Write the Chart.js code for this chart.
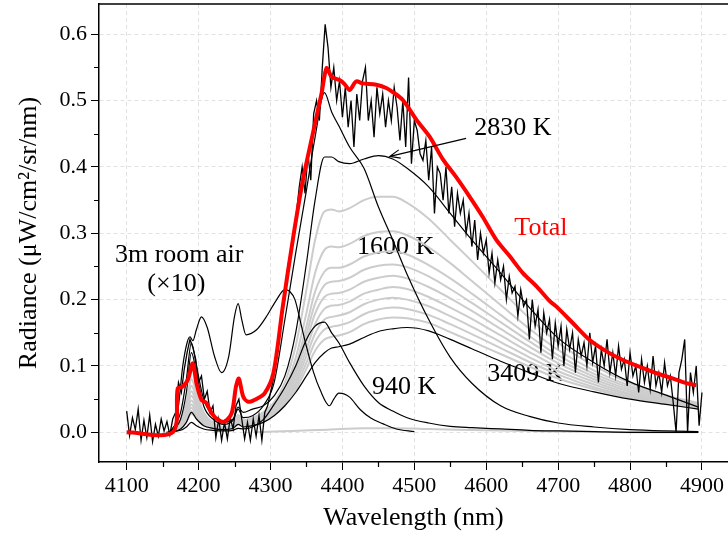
<!DOCTYPE html>
<html>
<head>
<meta charset="utf-8">
<script src="https://cdn.jsdelivr.net/npm/chart.js@4.4.1/dist/chart.umd.min.js"></script>
<style>
  html, body { margin: 0; padding: 0; background: #fff; }
</style>
</head>
<body>
<canvas id="spectrum" width="728" height="536"></canvas>
<script>
// wavelength grid of the model curves (nm)
const wlFit = [4160, 4175, 4183, 4190, 4197, 4207, 4220, 4235, 4248, 4255, 4262, 4275,
               4290, 4305, 4320, 4335, 4350, 4362, 4375, 4385, 4395, 4410, 4430, 4450,
               4470, 4490, 4520, 4550, 4580, 4620, 4660, 4700, 4750, 4800, 4850, 4895];

// black model curves
const k1600 = [0, 0.02, 0.06, 0.12, 0.09, 0.04, 0.02, 0.012, 0.018, 0.035, 0.022, 0.025,
               0.04, 0.075, 0.17, 0.27, 0.365, 0.445, 0.512, 0.483, 0.462, 0.43, 0.398, 0.34,
               0.29, 0.238, 0.17, 0.113, 0.074, 0.04, 0.024, 0.014, 0.008, 0.004, 0.002, 0.001];
const k2830 = [0, 0.03, 0.08, 0.135, 0.1, 0.05, 0.025, 0.015, 0.02, 0.038, 0.03, 0.035,
               0.04, 0.055, 0.085, 0.15, 0.255, 0.35, 0.415, 0.415, 0.408, 0.405, 0.412, 0.417,
               0.412, 0.398, 0.37, 0.33, 0.29, 0.24, 0.188, 0.142, 0.105, 0.076, 0.056, 0.038];
const k3409 = [0, 0.005, 0.015, 0.03, 0.02, 0.01, 0.006, 0.004, 0.006, 0.012, 0.008, 0.01,
               0.015, 0.025, 0.04, 0.06, 0.085, 0.105, 0.12, 0.127, 0.129, 0.133, 0.143, 0.152,
               0.156, 0.158, 0.153, 0.14, 0.126, 0.107, 0.09, 0.074, 0.061, 0.05, 0.042, 0.035];
const k940 = [0, 0.003, 0.008, 0.015, 0.01, 0.005, 0.003, 0.002, 0.003, 0.006, 0.005, 0.008,
              0.019, 0.042, 0.068, 0.1, 0.14, 0.16, 0.166, 0.15, 0.135, 0.105, 0.07, 0.045,
              0.032, 0.022, 0.014, 0.009, 0.007, 0.005, 0.003, 0.002, 0.001, 0, 0, 0];

// light grey intermediate curves
const g1 = [0, 0.018, 0.045, 0.08, 0.06, 0.03, 0.015, 0.008, 0.012, 0.026, 0.018, 0.022,
            0.03, 0.045, 0.075, 0.13, 0.215, 0.29, 0.333, 0.336, 0.333, 0.338, 0.35, 0.355,
            0.355, 0.346, 0.322, 0.29, 0.258, 0.215, 0.172, 0.135, 0.1, 0.074, 0.056, 0.044];
const g2 = [0, 0.015, 0.04, 0.07, 0.052, 0.026, 0.013, 0.007, 0.011, 0.023, 0.016, 0.02,
            0.027, 0.04, 0.066, 0.112, 0.18, 0.24, 0.275, 0.28, 0.279, 0.284, 0.296, 0.302,
            0.303, 0.297, 0.279, 0.255, 0.228, 0.192, 0.156, 0.124, 0.093, 0.07, 0.054, 0.043];
const g3 = [0, 0.013, 0.035, 0.062, 0.046, 0.023, 0.012, 0.006, 0.01, 0.021, 0.014, 0.018,
            0.025, 0.037, 0.06, 0.1, 0.16, 0.212, 0.242, 0.248, 0.248, 0.253, 0.265, 0.271,
            0.273, 0.268, 0.252, 0.232, 0.209, 0.177, 0.145, 0.116, 0.088, 0.067, 0.052, 0.042];
const g4 = [0, 0.012, 0.031, 0.055, 0.041, 0.02, 0.01, 0.006, 0.009, 0.019, 0.013, 0.016,
            0.023, 0.035, 0.056, 0.093, 0.148, 0.194, 0.222, 0.227, 0.228, 0.233, 0.245, 0.251,
            0.253, 0.249, 0.235, 0.216, 0.195, 0.166, 0.137, 0.11, 0.084, 0.064, 0.05, 0.041];
const g5 = [0, 0.01, 0.027, 0.048, 0.036, 0.018, 0.009, 0.005, 0.008, 0.017, 0.012, 0.015,
            0.021, 0.033, 0.052, 0.087, 0.137, 0.179, 0.204, 0.209, 0.21, 0.215, 0.227, 0.233,
            0.236, 0.232, 0.219, 0.202, 0.183, 0.156, 0.129, 0.104, 0.08, 0.061, 0.048, 0.04];
const g6 = [0, 0.009, 0.024, 0.042, 0.031, 0.016, 0.008, 0.005, 0.007, 0.015, 0.011, 0.014,
            0.02, 0.031, 0.049, 0.08, 0.125, 0.163, 0.186, 0.191, 0.192, 0.197, 0.209, 0.215,
            0.219, 0.216, 0.204, 0.188, 0.171, 0.146, 0.121, 0.098, 0.076, 0.058, 0.047, 0.039];
const g7 = [0, 0.008, 0.021, 0.037, 0.027, 0.014, 0.007, 0.004, 0.007, 0.014, 0.01, 0.013,
            0.018, 0.029, 0.046, 0.074, 0.115, 0.149, 0.17, 0.174, 0.176, 0.181, 0.193, 0.2,
            0.203, 0.2, 0.19, 0.175, 0.159, 0.136, 0.113, 0.092, 0.072, 0.056, 0.045, 0.038];
const g8 = [0, 0.007, 0.018, 0.032, 0.024, 0.012, 0.006, 0.004, 0.006, 0.013, 0.009, 0.012,
            0.017, 0.027, 0.043, 0.069, 0.105, 0.136, 0.155, 0.159, 0.161, 0.166, 0.178, 0.185,
            0.188, 0.186, 0.177, 0.163, 0.148, 0.127, 0.106, 0.087, 0.068, 0.054, 0.044, 0.037];
const g9 = [0, 0.006, 0.016, 0.028, 0.021, 0.011, 0.006, 0.004, 0.006, 0.012, 0.009, 0.011,
            0.016, 0.026, 0.041, 0.064, 0.096, 0.123, 0.14, 0.144, 0.146, 0.151, 0.163, 0.17,
            0.173, 0.172, 0.165, 0.151, 0.137, 0.118, 0.099, 0.081, 0.065, 0.052, 0.043, 0.036];

// nearly flat grey curve close to zero
const wlLow = [4280, 4330, 4380, 4430, 4470, 4520, 4600, 4700, 4800, 4895];
const gLow = [0, 0.002, 0.004, 0.006, 0.006, 0.005, 0.003, 0.001, 0, 0];

// 3 m room air, scaled x10
const wlAir = [4155, 4165, 4172, 4178, 4184, 4188, 4192, 4197, 4204, 4212, 4222, 4232, 4242,
               4250, 4255, 4260, 4266, 4281, 4294, 4308, 4320, 4327, 4334, 4342, 4350, 4360,
               4369, 4382, 4388, 4395, 4402, 4410, 4425, 4440, 4456, 4475, 4500];
const air = [0, 0.005, 0.04, 0.1, 0.135, 0.144, 0.138, 0.155, 0.174, 0.158, 0.115, 0.09, 0.115,
             0.175, 0.194, 0.17, 0.147, 0.155, 0.174, 0.199, 0.215, 0.212, 0.2, 0.165, 0.129, 0.09,
             0.064, 0.04, 0.05, 0.059, 0.058, 0.053, 0.034, 0.021, 0.013, 0.005, 0.001];

// total (red)
const wlTotal = [4100, 4164, 4171, 4178, 4185, 4192, 4197, 4204, 4211, 4218, 4227, 4236, 4246,
                 4252, 4256, 4262, 4269, 4280, 4292, 4304, 4317, 4331, 4345, 4359, 4371, 4378,
                 4385, 4396, 4403, 4410, 4419, 4428, 4447, 4461, 4470, 4484, 4503, 4521, 4540,
                 4558, 4577, 4595, 4614, 4633, 4651, 4670, 4688, 4698, 4721, 4744, 4767, 4790,
                 4813, 4837, 4860, 4878, 4892];
const total = [0, 0, 0.066, 0.069, 0.079, 0.104, 0.074, 0.049, 0.044, 0.029, 0.019, 0.016, 0.029,
               0.069, 0.081, 0.054, 0.046, 0.05, 0.059, 0.089, 0.189, 0.29, 0.38, 0.451, 0.511, 0.549,
               0.536, 0.531, 0.525, 0.516, 0.529, 0.526, 0.524, 0.519, 0.513, 0.501, 0.471, 0.446, 0.411,
               0.385, 0.355, 0.325, 0.29, 0.265, 0.24, 0.22, 0.198, 0.189, 0.164, 0.139, 0.122, 0.109,
               0.099, 0.089, 0.081, 0.074, 0.071];

// measured spectrum, 4100 to 4900 nm every 4 nm
const measStart = 4100;
const measStep = 4;
const measured = [
  0.032, -0.005, 0.022, 0.004, 0.035, -0.012, 0.018, -0.008, 0.026, -0.014,
  0.012, -0.006, 0.02, 0.002, 0.016, -0.004, 0.02, 0.03, 0.075, 0.06,
  0.095, 0.12, 0.14, 0.128, 0.11, 0.075, 0.085, 0.05, 0.062, 0.03,
  0.04, -0.008, 0.02, -0.012, 0.015, -0.01, 0.022, 0.005, 0.04, 0.05,
  0.02, -0.01, 0.015, -0.012, 0.02, -0.006, 0.025, -0.012, 0.03, 0.04,
  0.06, 0.08, 0.11, 0.14, 0.19, 0.2, 0.25, 0.27, 0.3, 0.33,
  0.37, 0.4, 0.36, 0.42, 0.38, 0.48, 0.5, 0.47, 0.55, 0.615,
  0.58, 0.52, 0.55, 0.5, 0.53, 0.475, 0.52, 0.46, 0.5, 0.43,
  0.51, 0.47, 0.53, 0.55, 0.47, 0.5, 0.445, 0.52, 0.48, 0.51,
  0.46, 0.5, 0.47, 0.52, 0.49, 0.44, 0.5, 0.43, 0.535, 0.405,
  0.47, 0.455, 0.42, 0.41, 0.44, 0.38, 0.43, 0.33, 0.4, 0.39,
  0.35, 0.4, 0.33, 0.37, 0.31, 0.36, 0.33, 0.35, 0.3, 0.33,
  0.28, 0.32, 0.26, 0.3, 0.27, 0.29, 0.24, 0.27, 0.225, 0.26,
  0.23, 0.25, 0.2, 0.235, 0.21, 0.22, 0.175, 0.215, 0.19, 0.2,
  0.14, 0.2, 0.16, 0.185, 0.12, 0.18, 0.15, 0.17, 0.11, 0.165,
  0.13, 0.16, 0.1, 0.155, 0.125, 0.15, 0.09, 0.14, 0.115, 0.135,
  0.1, 0.15, 0.105, 0.13, 0.075, 0.125, 0.1, 0.14, 0.09, 0.12,
  0.085, 0.13, 0.095, 0.11, 0.07, 0.12, 0.085, 0.1, 0.06, 0.11,
  0.075, 0.1, 0.065, 0.115, 0.07, 0.09, 0.06, 0.105, 0.07, 0.085,
  0.045, 0.0, 0.09, 0.11, 0.14, 0.0, 0.09, 0.06, 0.1, 0.01,
  0.06
];

const xMinor = [4150, 4250, 4350, 4450, 4550, 4650, 4750, 4850];
const yMinor = [0.05, 0.15, 0.25, 0.35, 0.45, 0.55];

const serif = '"Liberation Serif", "Times New Roman", serif';

function pts(xs, ys) {
    return xs.map((x, i) => ({ x: x, y: ys[i] }));
}

function curve(label, xs, ys, color, width, order) {
    return {
        label: label,
        data: pts(xs, ys),
        borderColor: color,
        borderWidth: width,
        pointRadius: 0,
        fill: false,
        cubicInterpolationMode: 'monotone',
        order: order
    };
}

const measPts = measured.map((v, i) => ({ x: measStart + i * measStep, y: v }));

const greyColor = '#cccccc';
const datasets = [
    { label: 'Total', data: pts(wlTotal, total), borderColor: '#ff0000', borderWidth: 4,
      pointRadius: 0, fill: false, tension: 0.3, order: 0 },
    { label: 'Measured', data: measPts, borderColor: '#000', borderWidth: 1.3,
      pointRadius: 0, fill: false, tension: 0, order: 1 },
    curve('1600 K', wlFit, k1600, '#000', 1.2, 2),
    curve('2830 K', wlFit, k2830, '#000', 1.2, 2),
    curve('3409 K', wlFit, k3409, '#000', 1.2, 2),
    curve('940 K', wlFit, k940, '#000', 1.2, 2),
    curve('Room air', wlAir, air, '#000', 1.2, 2),
    curve('g1', wlFit, g1, greyColor, 2, 3),
    curve('g2', wlFit, g2, greyColor, 2, 3),
    curve('g3', wlFit, g3, greyColor, 2, 3),
    curve('g4', wlFit, g4, greyColor, 2, 3),
    curve('g5', wlFit, g5, greyColor, 2, 3),
    curve('g6', wlFit, g6, greyColor, 2, 3),
    curve('g7', wlFit, g7, greyColor, 2, 3),
    curve('g8', wlFit, g8, greyColor, 2, 3),
    curve('g9', wlFit, g9, greyColor, 2, 3),
    curve('low', wlLow, gLow, greyColor, 2, 3)
];

const notes = [
    { text: '2830 K', x: 4637, y: 0.459, color: '#000' },
    { text: '1600 K', x: 4474, y: 0.279, color: '#000' },
    { text: '940 K', x: 4486, y: 0.068, color: '#000' },
    { text: '3409 K', x: 4655, y: 0.088, color: '#000' },
    { text: 'Total', x: 4676, y: 0.307, color: '#ff0000' },
    { text: '3m room air', x: 4173, y: 0.267, color: '#000' },
    { text: '(\u00d710)', x: 4169, y: 0.2235, color: '#000' }
];

function isMajorY(v) {
    return Math.abs(v * 10 - Math.round(v * 10)) < 1e-6;
}

// keep the plot box where the reference has it
function noPad(s) {
    s.paddingTop = 0;
    s.paddingBottom = 0;
    s.paddingLeft = 0;
    s.paddingRight = 0;
}

const notesPlugin = {
    id: 'notesPlugin',
    beforeDatasetsDraw(chart) {
        const { ctx, scales: { x, y } } = chart;
        ctx.save();
        ctx.font = '26px ' + serif;
        ctx.textAlign = 'center';
        ctx.textBaseline = 'middle';
        notes.forEach(n => {
            ctx.fillStyle = n.color;
            ctx.fillText(n.text, x.getPixelForValue(n.x), y.getPixelForValue(n.y));
        });
        ctx.restore();
    },
    afterDraw(chart) {
        const { ctx, chartArea, scales: { x, y } } = chart;
        ctx.save();
        // top frame
        ctx.strokeStyle = '#000';
        ctx.lineWidth = 1.5;
        ctx.beginPath();
        ctx.moveTo(chartArea.left, chartArea.top);
        ctx.lineTo(chartArea.right, chartArea.top);
        ctx.stroke();

        // minor ticks
        ctx.lineWidth = 1.2;
        ctx.beginPath();
        xMinor.forEach(v => {
            const px = Math.round(x.getPixelForValue(v)) + 0.5;
            ctx.moveTo(px, chartArea.bottom);
            ctx.lineTo(px, chartArea.bottom + 5);
        });
        yMinor.forEach(v => {
            const py = Math.round(y.getPixelForValue(v)) + 0.5;
            ctx.moveTo(chartArea.left, py);
            ctx.lineTo(chartArea.left - 5, py);
        });
        ctx.stroke();

        // arrow pointing at the 2830 K curve
        const x0 = x.getPixelForValue(4572), y0 = y.getPixelForValue(0.443);
        const x1 = x.getPixelForValue(4466), y1 = y.getPixelForValue(0.416);
        const ang = Math.atan2(y0 - y1, x0 - x1);
        ctx.lineWidth = 1.2;
        ctx.beginPath();
        ctx.moveTo(x0, y0);
        ctx.lineTo(x1, y1);
        ctx.moveTo(x1 + 11 * Math.cos(ang + 0.4), y1 + 11 * Math.sin(ang + 0.4));
        ctx.lineTo(x1, y1);
        ctx.lineTo(x1 + 11 * Math.cos(ang - 0.4), y1 + 11 * Math.sin(ang - 0.4));
        ctx.stroke();
        ctx.restore();
    }
};

new Chart(document.getElementById('spectrum'), {
    type: 'line',
    data: { datasets: datasets },
    options: {
        responsive: false,
        animation: false,
        layout: { padding: { top: 4, right: 0, bottom: 0, left: 0 } },
        plugins: {
            legend: { display: false },
            tooltip: { enabled: false }
        },
        scales: {
            x: {
                type: 'linear',
                min: 4061.5,
                max: 4936.2,
                afterFit: s => { s.height = 74; noPad(s); },
                border: { display: true, color: '#000', width: 1.5, dash: [4, 3] },
                grid: {
                    color: c => (c.tick && c.tick.value % 100 === 0) ? '#e2e2e2' : 'rgba(0,0,0,0)',
                    tickColor: c => (c.tick && c.tick.value % 100 === 0) ? '#000' : 'rgba(0,0,0,0)',
                    tickLength: 8,
                    lineWidth: 1
                },
                ticks: {
                    stepSize: 50,
                    includeBounds: false,
                    autoSkip: false,
                    maxRotation: 0,
                    padding: 3,
                    color: '#000',
                    font: { family: serif, size: 22 },
                    callback: v => (v % 100 === 0) ? String(v) : ''
                },
                title: {
                    display: true,
                    text: 'Wavelength (nm)',
                    color: '#000',
                    font: { family: serif, size: 26 },
                    padding: { top: 0, bottom: 2 }
                }
            },
            y: {
                type: 'linear',
                min: -0.0448,
                max: 0.6457,
                afterFit: s => { s.width = 99; noPad(s); },
                border: { display: true, color: '#000', width: 1.5, dash: [4, 3] },
                grid: {
                    color: c => (c.tick && isMajorY(c.tick.value)) ? '#e2e2e2' : 'rgba(0,0,0,0)',
                    tickColor: c => (c.tick && isMajorY(c.tick.value)) ? '#000' : 'rgba(0,0,0,0)',
                    tickLength: 8,
                    lineWidth: 1
                },
                ticks: {
                    stepSize: 0.05,
                    includeBounds: false,
                    autoSkip: false,
                    padding: 4,
                    color: '#000',
                    font: { family: serif, size: 22 },
                    callback: v => isMajorY(v) ? v.toFixed(1) : ''
                },
                title: {
                    display: true,
                    text: 'Radiance (\u03bcW/cm\u00b2/sr/nm)',
                    color: '#000',
                    font: { family: serif, size: 26 },
                    padding: { top: 14, bottom: 0 }
                }
            }
        }
    },
    plugins: [notesPlugin]
});
</script>
</body>
</html>
